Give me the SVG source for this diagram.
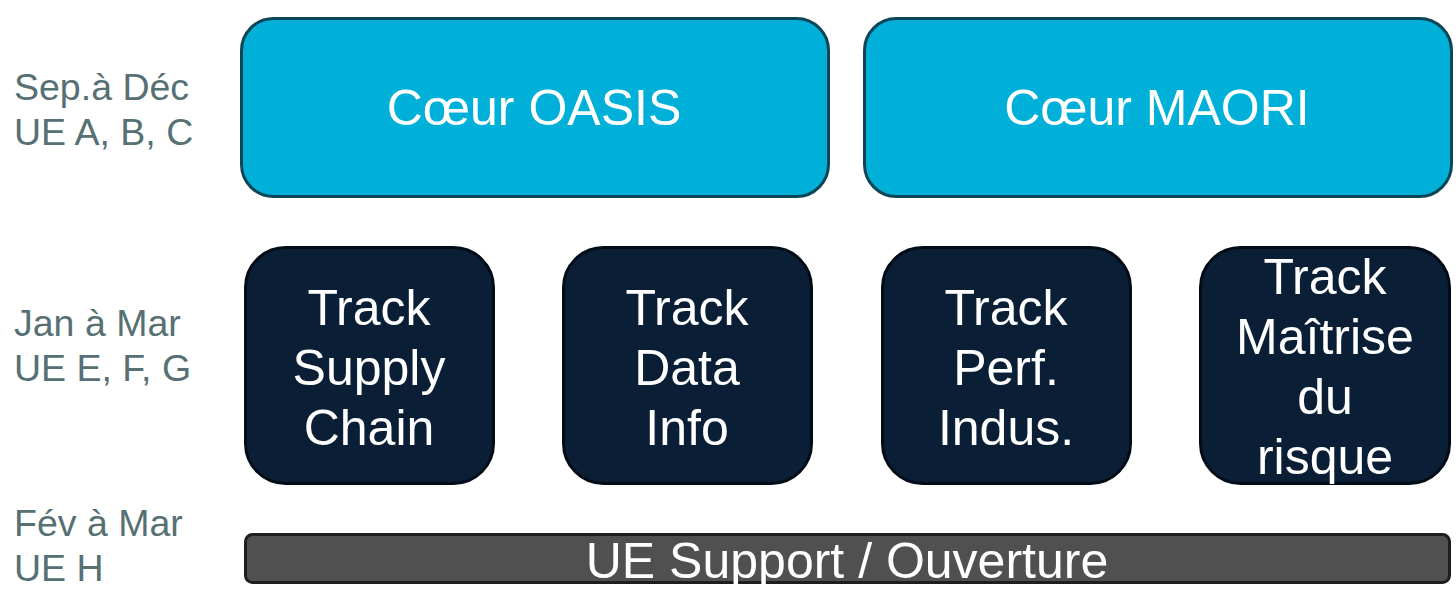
<svg xmlns="http://www.w3.org/2000/svg" width="1456" height="592" viewBox="0 0 1456 592">
<style>
.lbl{font-family:"Liberation Sans",Arial,sans-serif;font-size:37.5px;fill:#567073}
.core{fill:#00B0D8;stroke:#0B4656;stroke-width:3}
.trk{fill:#0A1F35;stroke:#030c16;stroke-width:3}
.bar{fill:#505050;stroke:#1e1e1e;stroke-width:3}
.t{font-family:"Liberation Sans",Arial,sans-serif;fill:#ffffff;text-anchor:middle}
.t46{font-size:50px}
.t48{font-size:50px}
</style>
<rect width="1456" height="592" fill="#ffffff"/>
<g id="labels">
<text class="lbl" x="14" y="100">Sep.à Déc</text>
<text class="lbl" x="14" y="145">UE A, B, C</text>
<text class="lbl" x="14" y="336">Jan à Mar</text>
<text class="lbl" x="14" y="381">UE E, F, G</text>
<text class="lbl" x="14" y="536">Fév à Mar</text>
<text class="lbl" x="14" y="581">UE H</text>
</g>
<g id="coeur-oasis">
<rect class="core" x="241.5" y="18.5" width="587" height="178" rx="32"/>
<text class="t t46" x="534" y="125">Cœur OASIS</text>
</g>
<g id="coeur-maori">
<rect class="core" x="864.5" y="18.5" width="587" height="178" rx="32"/>
<text class="t t46" x="1157" y="125">Cœur MAORI</text>
</g>
<g id="track-supply">
<rect class="trk" x="245.5" y="247.5" width="248" height="236" rx="40"/>
<text class="t t48" x="369" y="325">Track</text>
<text class="t t48" x="369" y="385">Supply</text>
<text class="t t48" x="369" y="445">Chain</text>
</g>
<g id="track-data">
<rect class="trk" x="563.5" y="247.5" width="248" height="236" rx="40"/>
<text class="t t48" x="687" y="325">Track</text>
<text class="t t48" x="687" y="385">Data</text>
<text class="t t48" x="687" y="445">Info</text>
</g>
<g id="track-perf">
<rect class="trk" x="882.5" y="247.5" width="248" height="236" rx="40"/>
<text class="t t48" x="1006" y="325">Track</text>
<text class="t t48" x="1006" y="385">Perf.</text>
<text class="t t48" x="1006" y="445">Indus.</text>
</g>
<g id="track-risque">
<rect class="trk" x="1200.5" y="247.5" width="249" height="236" rx="40"/>
<text class="t t48" x="1325" y="294">Track</text>
<text class="t t48" x="1325" y="354">Maîtrise</text>
<text class="t t48" x="1325" y="414">du</text>
<text class="t t48" x="1325" y="474">risque</text>
</g>
<g id="ue-support">
<rect class="bar" x="245.5" y="534.5" width="1204" height="48" rx="7"/>
<text class="t t48" x="847" y="578">UE Support / Ouverture</text>
</g>
<g id="connectors"></g>
</svg>
